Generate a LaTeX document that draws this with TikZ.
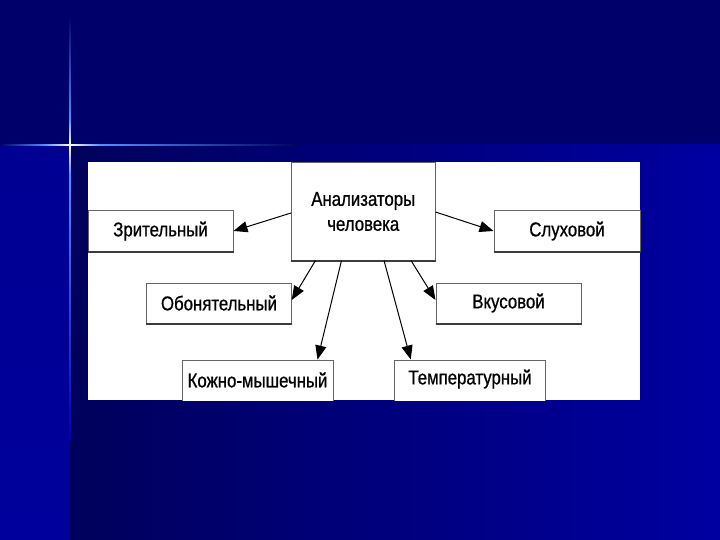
\documentclass[tikz,border=0pt]{standalone}
\usepackage{fontspec}
\newfontfamily\lab{Liberation Sans}[FakeStretch=0.84,FakeBold=0.8]
\usetikzlibrary{arrows.meta,calc}
\definecolor{navytop}{RGB}{0,0,107}
\definecolor{stripe}{RGB}{0,0,156}
\definecolor{lowleft}{RGB}{0,0,92}
\definecolor{lowright}{RGB}{0,0,160}
\definecolor{glow}{RGB}{90,140,255}
\definecolor{boxline}{RGB}{100,100,100}
\definecolor{boxshadow}{RGB}{60,60,60}
\tikzset{
  box/.style={draw=boxline, line width=1pt, fill=white, inner sep=0pt,
    font=\lab\fontsize{20}{25}\selectfont, align=center, text=black},
  boxbottom/.style={draw=boxshadow, line width=2pt},
  arr/.style={draw=black, line width=1pt, -{Triangle[length=14pt,width=11pt]}}
}
\begin{document}
\begin{tikzpicture}[x=1pt,y=-1pt]
\useasboundingbox (0,0) rectangle (720,540);
% background
\fill[navytop] (0,0) rectangle (720,145);
\shade[top color=stripe!80!navytop, bottom color=stripe] (0,145) rectangle (70,540);
\shade[left color=lowleft, right color=lowright] (70,145) rectangle (720,540);
% star flare
\shade[top color=navytop, bottom color=glow] (69.2,15) rectangle (70.8,120);
\shade[top color=glow, bottom color=white] (69.2,120) rectangle (70.8,145);
\shade[top color=white, bottom color=glow] (69.2,145) rectangle (70.8,175);
\shade[top color=glow, bottom color=stripe] (69.2,175) rectangle (70.8,440);
\shade[left color=navytop, right color=glow] (0,144.2) rectangle (45,145.8);
\shade[left color=glow, right color=white] (45,144.2) rectangle (70,145.8);
\shade[left color=white, right color=glow] (70,144.2) rectangle (100,145.8);
\shade[left color=glow, right color=lowleft] (100,144.2) rectangle (300,145.8);
% white panel
\fill[white] (88,162) rectangle (640,400);
% nodes
\node[box, minimum width=143.5pt, minimum height=97pt] (c) at (363.25,211.5)
  {Анализаторы\\человека};
\node[box, minimum width=145pt, minimum height=40pt] (z) at (160.5,231) {Зрительный};
\node[box, minimum width=146pt, minimum height=40pt] (s) at (567,231) {Слуховой};
\node[box, minimum width=144.5pt, minimum height=40pt] (o) at (219,303) {Обонятельный};
\node[box, minimum width=145pt, minimum height=40pt] (v) at (508.5,303) {Вкусовой};
\begin{scope}
\clip (88,162) rectangle (640,400);
\node[box, minimum width=151pt, minimum height=44pt] (k) at (257.5,382) {};
\node[box, minimum width=151.5pt, minimum height=44pt] (t) at (470,382) {};
\end{scope}
\node[font=\lab\fontsize{20}{25}\selectfont, text=black, inner sep=0pt] (kt) at (257.5,380) {Кожно-мышечный};
\node[font=\lab\fontsize{20}{25}\selectfont, text=black, inner sep=0pt] (tt) at (470,379) {Температурный};
% shadow bottoms
\draw[boxbottom] (c.south west) -- (c.south east);
\draw[boxbottom] (z.south west) -- (z.south east);
\draw[boxbottom] (s.south west) -- (s.south east);
\draw[boxbottom] (o.south west) -- (o.south east);
\draw[boxbottom] (v.south west) -- (v.south east);
% arrows
\draw[arr] ([yshift=-1.5pt]c.west) -- (z.east);
\draw[arr] ([yshift=-0.5pt]c.east) -- (s.west);
\draw[arr] ([xshift=24.5pt]c.south west) -- ([yshift=3pt]o.east);
\draw[arr] ([xshift=50.5pt]c.south west) -- ([xshift=-16pt]k.north east);
\draw[arr] ([xshift=-51.5pt]c.south east) -- ([xshift=17pt]t.north west);
\draw[arr] ([xshift=-24.5pt]c.south east) -- ([yshift=3pt]v.west);
\end{tikzpicture}
\end{document}
